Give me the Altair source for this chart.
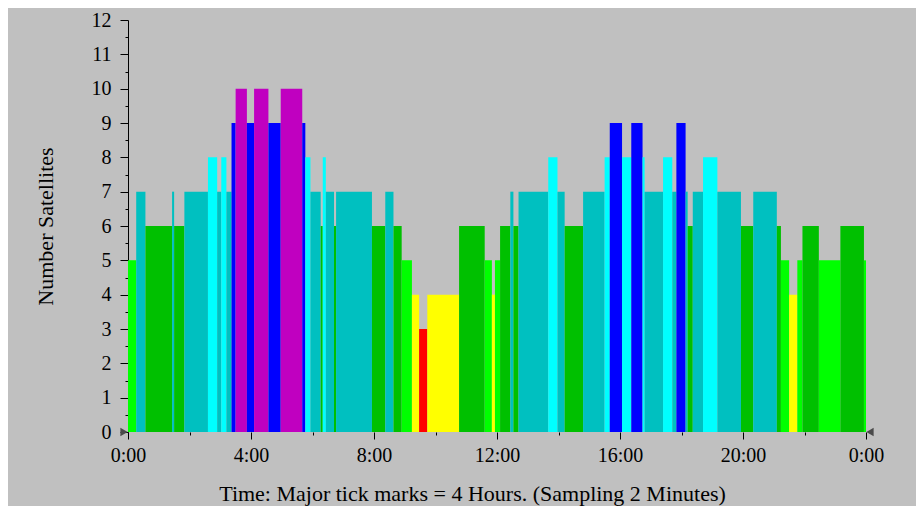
import altair as alt
import pandas as pd

# Segment boundaries in minutes from 0:00 (sampling 2 minutes)
edges = [0, 16, 34, 86, 90, 110, 156, 174, 182, 192, 202, 210, 232, 246, 274,
         298, 340, 346, 356, 376, 380, 386, 402, 406, 476, 502, 518, 534, 554,
         568, 584, 646, 696, 710, 716, 726, 746, 752, 762, 820, 838, 852, 888,
         930, 940, 964, 982, 1004, 1008, 1044, 1062, 1070, 1088, 1092, 1102,
         1122, 1150, 1196, 1220, 1266, 1274, 1290, 1306, 1316, 1348, 1390,
         1436, 1440]
# Number of satellites in each segment
counts = [5, 7, 6, 7, 6, 7, 8, 7, 8, 7, 9, 10, 9, 10, 9,
          10, 9, 8, 7, 6, 8, 7, 6, 7, 6, 7, 6, 5, 4,
          3, 4, 6, 5, 4, 5, 6, 7, 6, 7, 8, 7, 6, 7,
          8, 9, 8, 9, 8, 7, 8, 7, 9, 7, 6, 7,
          8, 7, 6, 7, 6, 5, 4, 5, 6, 5, 6, 5]

count_levels = [3, 4, 5, 6, 7, 8, 9, 10]
count_colors = ["#ff0000", "#ffff00", "#00ff00", "#00c000",
                "#00c0c0", "#00ffff", "#0000ff", "#c000c0"]

y_major = list(range(0, 13))
y_minor = [v + 0.5 for v in range(0, 12)]
x_major = [0, 240, 480, 720, 960, 1200, 1440]
x_minor = [120, 360, 600, 840, 1080, 1320]

df = pd.DataFrame({
    "start": edges[:-1],
    "end": edges[1:],
    "count": counts,
})
df["zero"] = 0

FONT = "Liberation Serif"

xscale = alt.Scale(domain=[0, 1440], nice=False, zero=False)
yscale = alt.Scale(domain=[0, 12], nice=False)

bars = alt.Chart(df).mark_rect(strokeWidth=0).encode(
    x=alt.X("start:Q", scale=xscale,
            axis=alt.Axis(values=x_major, orient="bottom", tickSize=7,
                          tickColor="#000000", domain=False, grid=False,
                          labelExpr="floor(datum.value/60)%24 + ':00'",
                          labelFont=FONT, labelFontSize=20, labelColor="#000000",
                          labelPadding=6, labelFlush=False,
                          title="Time: Major tick marks = 4 Hours. (Sampling 2 Minutes)",
                          titleFont=FONT, titleFontSize=22, titleFontWeight="normal",
                          titleColor="#000000", titlePadding=18,
                          titleX=344, titleAlign="center")),
    x2="end:Q",
    y=alt.Y("count:Q", scale=yscale,
            axis=alt.Axis(values=y_major, orient="left", tickSize=8,
                          tickColor="#000000", domainColor="#000000", grid=False,
                          labelFont=FONT, labelFontSize=20, labelColor="#000000",
                          labelPadding=9,
                          title="Number Satellites", titleFont=FONT,
                          titleFontSize=22, titleFontWeight="normal",
                          titleColor="#000000", titlePadding=34)),
    y2="zero:Q",
    color=alt.Color("count:O", scale=alt.Scale(domain=count_levels, range=count_colors),
                    legend=None),
)

minor = alt.Chart(df).mark_point(opacity=0).encode(
    x=alt.X("start:Q", scale=xscale,
            axis=alt.Axis(values=x_minor, orient="bottom", tickSize=3,
                          tickColor="#000000", domain=False, grid=False,
                          labels=False, title=None)),
    y=alt.Y("count:Q", scale=yscale,
            axis=alt.Axis(values=y_minor, orient="left", tickSize=3,
                          tickColor="#000000", domain=False, grid=False,
                          labels=False, title=None)),
)

marker_left = pd.DataFrame({"x": [0], "y": [0]})
marker_right = pd.DataFrame({"x": [1440], "y": [0]})

tri_l = alt.Chart(marker_left).mark_point(
    shape="triangle-right", filled=True, color="#4a4a4a", size=70, opacity=1, xOffset=-4
).encode(x=alt.X("x:Q", scale=xscale, axis=None), y=alt.Y("y:Q", scale=yscale, axis=None))

tri_r = alt.Chart(marker_right).mark_point(
    shape="triangle-left", filled=True, color="#4a4a4a", size=70, opacity=1, xOffset=4
).encode(x=alt.X("x:Q", scale=xscale, axis=None), y=alt.Y("y:Q", scale=yscale, axis=None))

chart = alt.layer(bars, minor, tri_l, tri_r).resolve_axis(
    x="independent", y="independent"
).properties(
    width=738,
    height=412,
    background="#c0c0c0",
    padding={"left": 120, "top": 12, "right": 50, "bottom": 74},
    autosize=alt.AutoSizeParams(type="none"),
).configure_view(stroke=None).configure_axis(labelLimit=0)

chart.save("out.html", embed_options={"renderer": "svg", "actions": False})
